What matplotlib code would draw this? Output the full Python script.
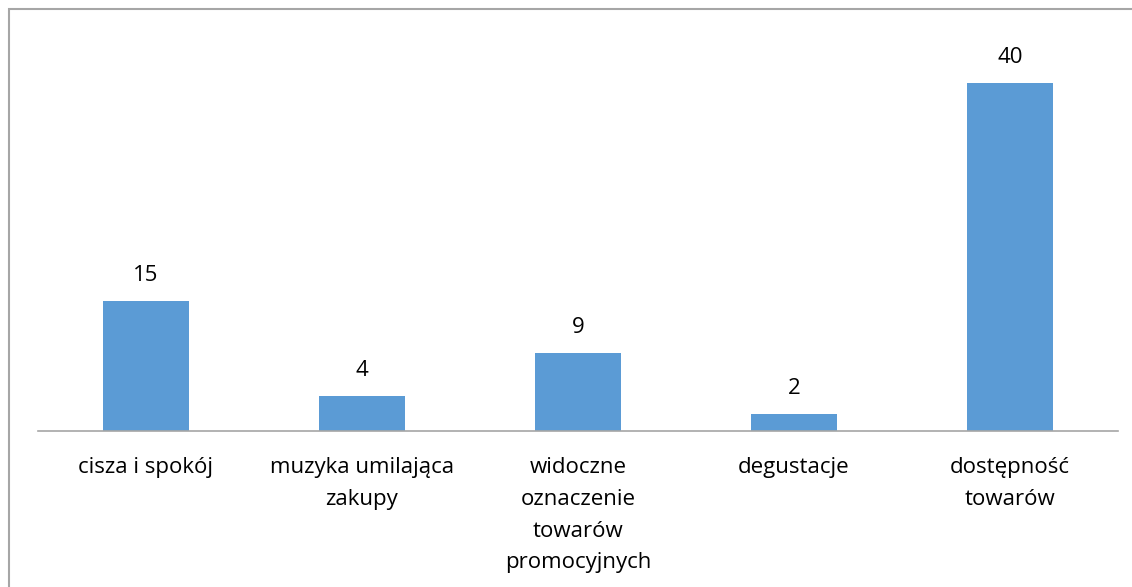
import matplotlib.pyplot as plt
from matplotlib.patches import Rectangle

categories = ['cisza i spokój', 'muzyka umilająca\nzakupy',
              'widoczne\noznaczenie\ntowarów\npromocyjnych',
              'degustacje', 'dostępność\ntowarów']
values = [15, 4, 9, 2, 40]

plt.rcParams['font.family'] = ['Open Sans', 'DejaVu Sans']

fig = plt.figure(figsize=(11.32, 5.87), dpi=100)
ax = fig.add_axes([38 / 1132, 156 / 587, 1080 / 1132, 391.5 / 587])

x = range(len(values))
bars = ax.bar(x, values, width=0.4, color='#5B9BD5', zorder=2)
for xi, v in zip(x, values):
    ax.text(xi, v + 1.7, str(v), ha='center', va='bottom', fontsize=16, color='#000000')

ax.set_xlim(-0.5, len(values) - 0.5)
ax.set_ylim(0, 45)
ax.set_xticks(list(x))
ax.set_xticklabels(categories, fontsize=16, linespacing=1.66)
ax.tick_params(axis='x', length=0, pad=19)
ax.set_yticks([])
for s in ['top', 'right', 'left']:
    ax.spines[s].set_visible(False)
ax.spines['bottom'].set_color('#A6A6A6')
ax.spines['bottom'].set_linewidth(1.2)

# outer chart frame (cut off at right and bottom)
fig.patches.append(Rectangle((9 / 1132, -0.1), 1.2, (578 / 587) + 0.1,
                             transform=fig.transFigure, fill=False,
                             edgecolor='#A6A6A6', linewidth=1.5))

fig.savefig('out.png', dpi=100)
